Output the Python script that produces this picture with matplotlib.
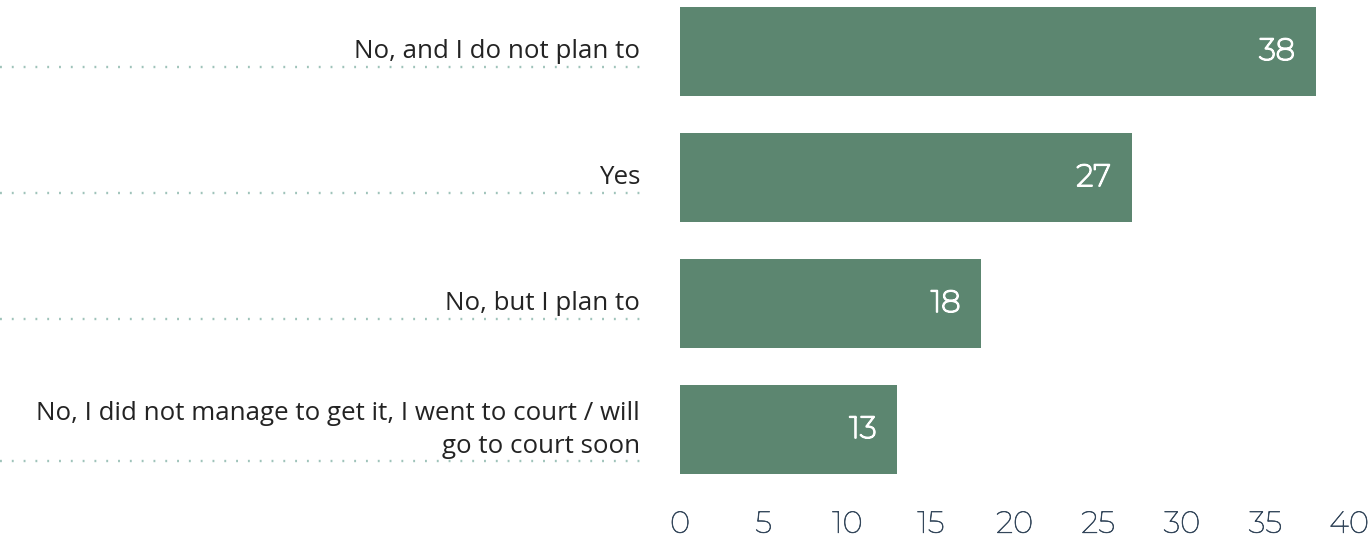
import matplotlib
matplotlib.use("Agg")
import matplotlib.pyplot as plt
import matplotlib.patheffects as pe
from matplotlib.lines import Line2D

categories = [
    "No, and I do not plan to",
    "Yes",
    "No, but I plan to",
    "No, I did not manage to get it, I went to court / will\ngo to court soon",
]
values = [38, 27, 18, 13]
xticks = [0, 5, 10, 15, 20, 25, 30, 35, 40]

W, H = 1372, 556
DPI = 100
fig = plt.figure(figsize=(W / DPI, H / DPI), dpi=DPI)

bar_color = "#5c8670"
dot_color = "#9fc3ba"
text_color = "#232323"
tick_color = "#34475b"

# axes placed in pixel terms: x from 680 to 1349, y from 0 to 490 (top-down)
ax_left, ax_right = 680, 1349
ax_top, ax_bottom = 0, 490
ax = fig.add_axes([ax_left / W, 1 - ax_bottom / H,
                   (ax_right - ax_left) / W, (ax_bottom - ax_top) / H])

row0, step = 52, 126
y_top = (ax_top - row0) / step
y_bot = (ax_bottom - row0) / step
ypos = list(range(len(categories)))

ax.barh(ypos, values, height=89 / step, color=bar_color, zorder=2)
ax.set_xlim(0, 40)
ax.set_ylim(y_bot, y_top)

for sp in ax.spines.values():
    sp.set_visible(False)
ax.set_yticks([])
ax.set_xticks(xticks)
ax.set_xticklabels([str(t) for t in xticks], fontsize=22, color=tick_color,
                   family=["Montserrat", "Lato", "DejaVu Sans"], fontweight=300)
for lbl in ax.get_xticklabels():
    lbl.set_path_effects([pe.withStroke(linewidth=0.45, foreground=tick_color)])
ax.tick_params(axis="x", length=0, pad=15)

# value labels inside bars
for y, v in zip(ypos, values):
    ax.text(v - 1.25, y, str(v), ha="right", va="center", color="white",
            fontsize=22, family=["Montserrat", "Lato", "DejaVu Sans"],
            fontweight=500,
            path_effects=[pe.withStroke(linewidth=1.3, foreground="white")])

# category labels on the left with dotted underline
label_x = 640 / W
labels = []
for y, cat in zip(ypos, categories):
    fy = 1 - (row0 + step * y) / H
    t = fig.text(label_x, fy, cat, ha="right", va="center", color=text_color,
                 fontsize=18.6, family=["Open Sans", "DejaVu Sans"],
                 linespacing=1.4)
    labels.append(t)

fig.canvas.draw()
renderer = fig.canvas.get_renderer()
for t in labels:
    bb = t.get_window_extent(renderer)
    ly = (bb.y0 - 2) / H
    fig.add_artist(Line2D([0 / W, 643 / W], [ly, ly], transform=fig.transFigure,
                          color=dot_color, linewidth=1.7,
                          linestyle=(0, (0.8, 4.2))))

fig.savefig("out.png", dpi=DPI, facecolor="white")
